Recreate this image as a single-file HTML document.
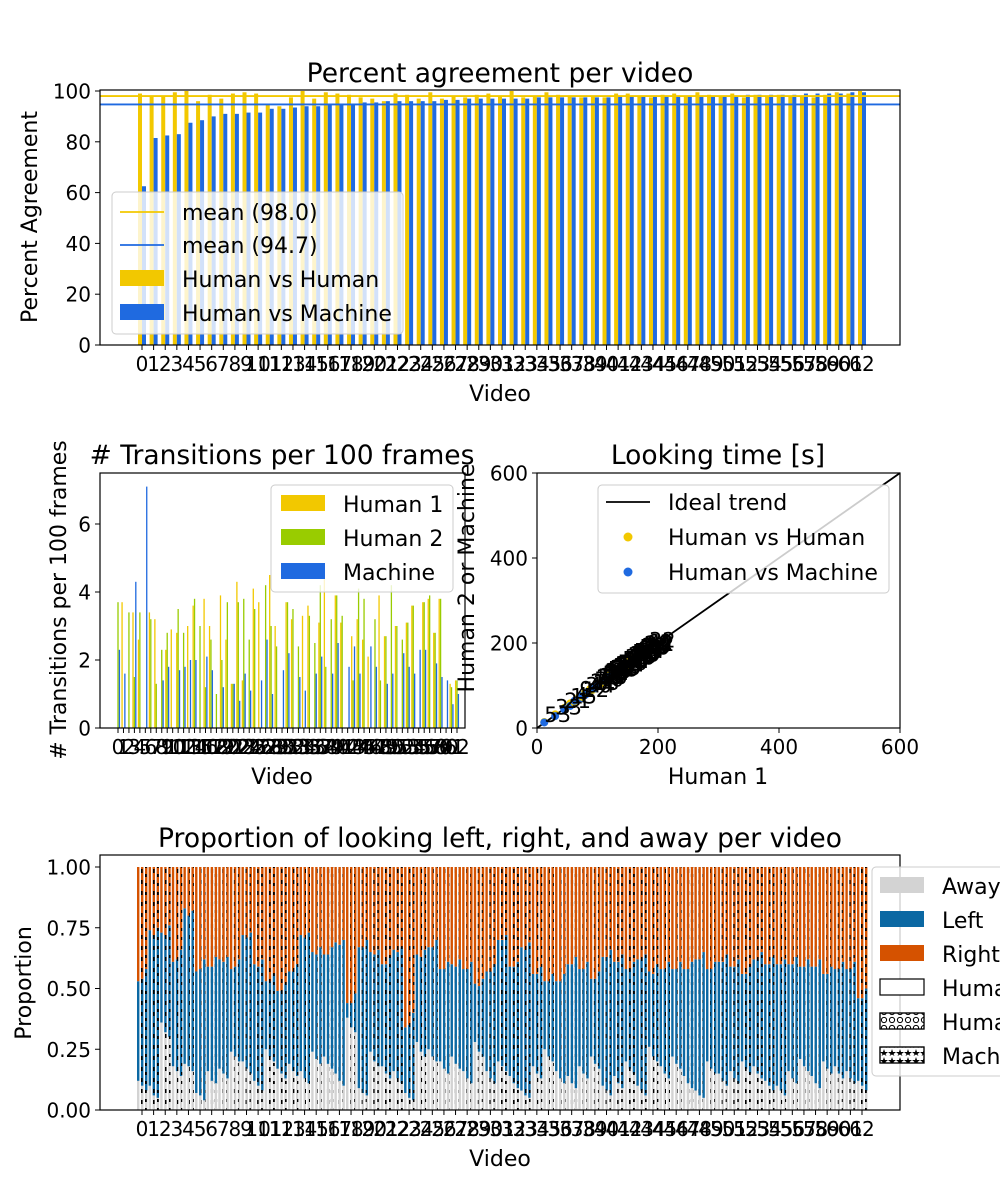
<!DOCTYPE html>
<html><head><meta charset="utf-8"><style>
html,body{margin:0;padding:0;background:#fff;}
svg{display:block;font-family:"DejaVu Sans","Liberation Sans",sans-serif;}
</style></head><body>
<svg id="fig" width="1000" height="1200" viewBox="0 0 1000 1200" xmlns="http://www.w3.org/2000/svg">
<defs>
<pattern id="hatchO" patternUnits="userSpaceOnUse" width="8" height="8"><circle cx="4" cy="4" r="2.6" fill="none" stroke="#000" stroke-width="1"/></pattern>
<pattern id="hatchStar" patternUnits="userSpaceOnUse" width="8" height="8"><path d="M4 1 L5 4 L8 4 L5.5 6 L6.5 8 L4 6.5 L1.5 8 L2.5 6 L0 4 L3 4Z" fill="#000"/></pattern>
<pattern id="barO" patternUnits="userSpaceOnUse" width="4" height="11"><rect x="1" y="0" width="1.6" height="4" fill="#000"/></pattern>
<pattern id="barStar" patternUnits="userSpaceOnUse" width="4" height="9"><rect x="1" y="1" width="1.8" height="3" fill="#000"/></pattern>
</defs>
<g id="g1"></g><g id="g2"></g><g id="g3"></g><g id="g4"></g>
</svg>
<script>
// ---------- data ----------
const videos = Array.from({length:63},(_,i)=>i);
const hvm = [62.5,81.5,82.5,83,87.5,88.5,90,91,91,91.5,91.5,93,93,93.5,94,94,94.5,95,95,95.5,95.5,96,96,96,96,96,96.5,96.5,97,97,97,97,97,97,97.5,97.5,97.5,97.5,97.5,97.5,97.5,98,98,98,98,98,98,98,98,98,98,98,98.5,98.5,98.5,98.5,98.5,99,99,99,99,99.5,99.5];
const hvh = [99,98,98,99.5,100,96,98.5,97,99,99.5,99,94.5,94,97.5,100,97,99.5,99,98.5,97.5,97,96,99,98.5,97,99.5,97,98,97.5,98.5,99,98,100,97.5,98,99.5,98.5,98,97.5,98,97.5,99,99,98,97.5,98.5,99,98,99.5,98.5,98,99,97.5,98.5,98,98.5,98,98,97.5,98.5,99.5,99,100];
const meanHvH = 98.0, meanHvM = 94.7;
const yTicksPct = [0,20,40,60,80,100];

const trH1 = [0,3.7,0,3.4,2.6,0,3.4,3.2,0,2.3,2.9,2.8,0,3.0,3.6,0,3.8,3.0,0,3.9,2.6,1.3,4.3,1.4,0,4.1,3.7,0,4.5,3.0,0,3.7,3.2,0,3.3,3.6,0,3.1,4.4,0,3.9,3.1,0,2.7,3.2,2.6,2.1,0,3.9,2.7,0,3.0,0,3.1,3.6,0,3.7,3.8,2.8,3.8,0,1.3,1.4];
const trH2 = [3.7,0,3.4,1.5,3.4,0,3.2,1.3,2.3,2.8,0,3.5,2.8,0,3.8,3.0,1.2,2.6,1.0,2.0,3.7,1.3,3.7,3.8,2.6,3.5,0,4.2,3.0,2.4,0,3.7,3.5,2.4,0,3.3,2.5,4.2,1.8,3.2,3.9,3.3,0,1.4,4.1,3.8,0,3.2,1.4,2.7,4.2,3.0,2.6,3.1,3.6,0,3.7,3.9,2.8,3.8,0,1.2,1.4];
const trM = [2.3,1.6,0,4.3,0,7.1,0,0,1.4,1.8,0,1.7,1.8,2.0,2.0,0,2.1,1.7,0,1.2,0,1.3,0.8,1.6,1.1,0,1.4,2.6,1.0,0,1.7,2.2,0,1.5,1.1,0,1.6,2.1,0,1.6,2.5,0,1.8,2.4,1.6,0,2.4,1.8,0,1.3,1.6,0,2.2,1.8,1.6,2.3,2.3,0,1.9,1.5,1.4,0.7,1.0];
const yTicksTr = [0,2,4,6];

const ltH1 = [12,30,45,55,62,70,75,80,85,88,92,95,98,100,103,106,108,110,112,115,117,119,121,123,125,127,129,131,133,135,137,139,141,143,145,147,149,151,153,155,157,159,161,163,165,167,169,171,173,175,177,179,181,183,185,150,140,130,120,110,100,160,170];
const ltH2 = [14,32,47,58,60,74,73,84,83,92,90,97,102,98,106,104,112,108,116,113,121,117,125,121,129,125,133,129,137,133,141,137,145,141,149,145,153,149,157,153,161,157,165,161,169,165,173,169,177,173,181,177,185,181,189,154,143,134,123,113,104,164,175];
const ltM = [13,28,44,52,64,68,77,78,87,86,94,93,100,99,105,108,110,112,114,117,119,121,123,126,127,129,131,134,135,137,139,141,143,145,147,149,151,153,155,157,159,161,163,165,167,169,171,173,175,177,179,181,183,185,187,152,142,132,121,111,102,162,172];
const ltLabels = [53,33,21,15,4,9,12,30,44,2,18,7,25,40,11,60,13,27,35,8,50,6,22,38,17,46,3,29,55,14,41,20,58,24,37,1,48,16,31,10,52,26,43,19,61,34,5,47,23,56,28,39,62,42,32,36,45,49,51,54,57,59,0];
const scTicks = [0,200,400,600];

const awayH1 = [0.12,0.10,0.36,0.18,0.19,0.07,0.16,0.17,0.24,0.20,0.12,0.25,0.17,0.19,0.16,0.24,0.22,0.15,0.38,0.09,0.24,0.18,0.16,0.07,0.28,0.25,0.20,0.22,0.16,0.28,0.16,0.20,0.14,0.08,0.18,0.25,0.16,0.14,0.18,0.22,0.10,0.14,0.20,0.10,0.26,0.18,0.22,0.14,0.08,0.20,0.15,0.16,0.20,0.18,0.12,0.10,0.16,0.21,0.14,0.20,0.18,0.16,0.12];
const leftH1 = [0.41,0.64,0.37,0.43,0.64,0.50,0.43,0.45,0.34,0.52,0.48,0.28,0.32,0.38,0.56,0.41,0.42,0.54,0.06,0.58,0.41,0.42,0.50,0.27,0.36,0.42,0.38,0.38,0.42,0.24,0.41,0.50,0.45,0.59,0.38,0.28,0.37,0.46,0.40,0.32,0.53,0.47,0.38,0.52,0.31,0.40,0.36,0.44,0.54,0.38,0.46,0.43,0.36,0.44,0.48,0.50,0.44,0.38,0.45,0.36,0.40,0.42,0.34];
const awayH2 = [0.10,0.06,0.32,0.16,0.18,0.06,0.12,0.15,0.22,0.17,0.10,0.22,0.15,0.16,0.13,0.21,0.19,0.12,0.34,0.07,0.20,0.15,0.13,0.05,0.24,0.22,0.17,0.19,0.13,0.24,0.13,0.18,0.11,0.06,0.15,0.22,0.13,0.11,0.15,0.19,0.08,0.11,0.17,0.08,0.22,0.15,0.19,0.11,0.06,0.17,0.12,0.13,0.17,0.15,0.10,0.08,0.13,0.18,0.11,0.17,0.15,0.13,0.10];
const leftH2 = [0.44,0.66,0.40,0.46,0.62,0.52,0.47,0.46,0.37,0.54,0.49,0.31,0.34,0.41,0.58,0.43,0.45,0.56,0.10,0.60,0.44,0.45,0.52,0.30,0.39,0.45,0.41,0.40,0.45,0.27,0.44,0.52,0.48,0.60,0.41,0.31,0.40,0.49,0.43,0.35,0.55,0.50,0.41,0.54,0.34,0.43,0.39,0.47,0.56,0.41,0.49,0.46,0.39,0.47,0.50,0.52,0.47,0.41,0.48,0.39,0.43,0.45,0.36];
const awayM = [0.08,0.05,0.30,0.14,0.16,0.04,0.11,0.13,0.20,0.15,0.08,0.20,0.13,0.14,0.11,0.19,0.17,0.10,0.32,0.06,0.18,0.13,0.11,0.04,0.22,0.20,0.15,0.17,0.11,0.22,0.11,0.16,0.09,0.05,0.13,0.20,0.11,0.09,0.13,0.17,0.06,0.09,0.15,0.06,0.20,0.13,0.17,0.09,0.05,0.15,0.10,0.11,0.15,0.13,0.08,0.06,0.11,0.16,0.09,0.15,0.13,0.11,0.08];
const leftM = [0.50,0.70,0.46,0.52,0.66,0.58,0.52,0.50,0.42,0.58,0.54,0.36,0.39,0.46,0.62,0.48,0.50,0.60,0.16,0.64,0.48,0.50,0.56,0.36,0.44,0.50,0.46,0.45,0.50,0.32,0.49,0.56,0.52,0.64,0.46,0.36,0.45,0.54,0.48,0.40,0.60,0.55,0.46,0.58,0.40,0.48,0.44,0.52,0.60,0.46,0.54,0.51,0.44,0.52,0.55,0.56,0.52,0.46,0.53,0.44,0.48,0.50,0.42];
const propTicks = [0,0.25,0.5,0.75,1.0];

// ---------- helpers ----------
const NS = "http://www.w3.org/2000/svg";
function el(tag, attrs, parent){ const e=document.createElementNS(NS,tag); for(const k in attrs) e.setAttribute(k,attrs[k]); parent.appendChild(e); return e; }
function txt(s, attrs, parent){ const e=el('text',attrs,parent); e.textContent=s; return e; }
const YEL="#f2c800", BLU="#1f6ae0", GRN="#99cc00", LBL="#0b68a3", ORG="#d55200", GRY="#d3d3d3";
const TK=20, LB=22, TT=26.5, LG=22;

function frame(g,x0,y0,x1,y1,name){
  const r=el('rect',{x:x0,y:y0,width:x1-x0,height:y1-y0,fill:"none",stroke:"#000","stroke-width":1.2},g);
  
  
}
function yAxis(g,ticks,ys,x0,fmt,name){
  ticks.forEach(t=>{
    const y=ys(t);
    const l=el('line',{x1:x0-5,x2:x0,y1:y,y2:y,stroke:"#000","stroke-width":1},g);
    
    
    const tt=txt(fmt(t),{x:x0-9,y:y+7.5,"text-anchor":"end","font-size":TK},g);
    
    
  });
}
function xCat(g,xs,y0,fs,name){
  videos.forEach(i=>{
    const x=xs(i);
    const l=el('line',{x1:x,x2:x,y1:y0,y2:y0+5,stroke:"#000","stroke-width":1},g);
    
    
    const tt=txt(String(i),{x:x,y:y0+26,"text-anchor":"middle","font-size":fs},g);
    
    
  });
}
function label(g,s,x,y,fs,rot,name){
  const a={x:x,y:y,"text-anchor":"middle","font-size":fs};
  if(rot) a.transform=`rotate(-90 ${x} ${y})`;
  const t=txt(s,a,g);
  
  
}
function legendBox(g,x,y,w,h,name){
  const r=el('rect',{x:x,y:y,width:w,height:h,rx:4,fill:"#fff","fill-opacity":0.8,stroke:"#ccc"},g);
  
  
}
function legendText(g,s,x,y,name){
  const t=txt(s,{x:x,y:y,"font-size":LG},g);
  
  
}

// ---------- chart 1 ----------
(function(){
  const g=document.getElementById('g1');
  const X0=100,X1=900,Y0=90,Y1=345;
  const xs=i=>142+i*(720/62);
  const ys=v=>Y1-v*2.54;
  videos.forEach(i=>{
    const a=el('rect',{x:xs(i)-4,y:ys(hvh[i]),width:4,height:Y1-ys(hvh[i]),fill:YEL},g);
    
    
    const b=el('rect',{x:xs(i),y:ys(hvm[i]),width:4,height:Y1-ys(hvm[i]),fill:BLU},g);
    
    
  });
  const m1=el('line',{x1:X0,x2:X1,y1:ys(meanHvH),y2:ys(meanHvH),stroke:YEL,"stroke-width":1.8},g);
  
  
  const m2=el('line',{x1:X0,x2:X1,y1:ys(meanHvM),y2:ys(meanHvM),stroke:BLU,"stroke-width":1.8},g);
  
  
  frame(g,X0,Y0,X1,Y1,'agreement-axes');
  yAxis(g,yTicksPct,ys,X0,t=>String(t),'agreement-y');
  xCat(g,xs,Y1,TK,'agreement-x');
  label(g,"Percent agreement per video",500,82,TT,false,'agreement-title');
  label(g,"Video",500,401,LB,false,'agreement-x-title');
  label(g,"Percent Agreement",37,217,LB,true,'agreement-y-title');
  legendBox(g,112,192,291,142,'agreement-legend');
  const l1=el('line',{x1:120,x2:164,y1:212,y2:212,stroke:YEL,"stroke-width":1.8},g);
  
  
  legendText(g,"mean (98.0)",182,220,'legend-mean-hvh');
  const l2=el('line',{x1:120,x2:164,y1:245,y2:245,stroke:BLU,"stroke-width":1.8},g);
  
  
  legendText(g,"mean (94.7)",182,253,'legend-mean-hvm');
  const p1=el('rect',{x:120,y:270,width:44,height:16,fill:YEL},g);
  
  
  legendText(g,"Human vs Human",182,287,'legend-hvh');
  const p2=el('rect',{x:120,y:304,width:44,height:16,fill:BLU},g);
  
  
  legendText(g,"Human vs Machine",182,321,'legend-hvm');
})();

// ---------- chart 2 ----------
(function(){
  const g=document.getElementById('g2');
  const X0=100,X1=465,Y0=473,Y1=728;
  const xs=i=>118+i*(339/62);
  const ys=v=>Y1-v*34;
  const sets=[[trH1,YEL,-1.4,'bar-transitions-human1'],[trH2,GRN,0,'bar-transitions-human2'],[trM,BLU,1.4,'bar-transitions-machine']];
  sets.forEach(s=>{
    videos.forEach(i=>{
      const v=s[0][i]; if(!v) return;
      const r=el('rect',{x:xs(i)+s[2]-0.65,y:ys(v),width:1.3,height:Y1-ys(v),fill:s[1]},g);
      
      
    });
  });
  frame(g,X0,Y0,X1,Y1,'transitions-axes');
  yAxis(g,yTicksTr,ys,X0,t=>String(t),'transitions-y');
  xCat(g,xs,Y1,TK,'transitions-x');
  label(g,"# Transitions per 100 frames",282,464,TT,false,'transitions-title');
  label(g,"Video",282,784,LB,false,'transitions-x-title');
  label(g,"# Transitions per 100 frames",66,600,LB,true,'transitions-y-title');
  legendBox(g,271,485,182,107,'transitions-legend');
  [[YEL,"Human 1",495],[GRN,"Human 2",529],[BLU,"Machine",563]].forEach(e=>{
    const p=el('rect',{x:281,y:e[2],width:44,height:16,fill:e[0]},g);
    
    
    legendText(g,e[1],343,e[2]+17,'legend-entry');
  });
})();

// ---------- chart 3 ----------
(function(){
  const g=document.getElementById('g3');
  const X0=537,X1=900,Y0=473,Y1=728;
  const sx=v=>X0+v*(363/600);
  const sy=v=>Y1-v*(255/600);
  const ln=el('line',{x1:sx(0),y1:sy(0),x2:sx(600),y2:sy(600),stroke:"#000","stroke-width":1.8},g);
  
  
  ltH1.forEach((v,i)=>{
    const c=el('circle',{cx:sx(v),cy:sy(ltH2[i]),r:4,fill:YEL},g);
    
    
    const d=el('circle',{cx:sx(v),cy:sy(ltM[i]),r:4,fill:BLU},g);
    
    
  });
  ltH1.forEach((v,i)=>{
    const t=txt(String(ltLabels[i]),{x:sx(v),y:sy(ltH2[i]),"font-size":21},g);
    
    
  });
  frame(g,X0,Y0,X1,Y1,'looking-time-axes');
  yAxis(g,scTicks,sy,X0,t=>String(t),'looking-time-y');
  scTicks.forEach(t=>{
    const l=el('line',{x1:sx(t),x2:sx(t),y1:Y1,y2:Y1+5,stroke:"#000"},g);
    
    
    const tt=txt(String(t),{x:sx(t),y:Y1+26,"text-anchor":"middle","font-size":TK},g);
    
    
  });
  label(g,"Looking time [s]",718,464,TT,false,'looking-time-title');
  label(g,"Human 1",718,784,LB,false,'looking-time-x-title');
  label(g,"Human 2 or Machine",474,578,LB,true,'looking-time-y-title');
  legendBox(g,598,485,291,108,'looking-time-legend');
  const l=el('line',{x1:606,x2:650,y1:502,y2:502,stroke:"#000","stroke-width":1.8},g);
  
  
  legendText(g,"Ideal trend",668,510,'legend-ideal');
  const c1=el('circle',{cx:628,cy:537,r:4.5,fill:YEL},g);
  
  
  legendText(g,"Human vs Human",668,545,'legend-hvh');
  const c2=el('circle',{cx:628,cy:572,r:4.5,fill:BLU},g);
  
  
  legendText(g,"Human vs Machine",668,580,'legend-hvm');
})();

// ---------- chart 4 ----------
(function(){
  const g=document.getElementById('g4');
  const X0=100,X1=900,Y0=855,Y1=1110;
  const xs=i=>142+i*(720/62);
  const ys=v=>Y1-v*243;
  const raters=[[awayH1,leftH1,-5,null,'human1'],[awayH2,leftH2,-1,'url(#barO)','human2'],[awayM,leftM,3,'url(#barStar)','machine']];
  raters.forEach(r=>{
    videos.forEach(i=>{
      const a=r[0][i], l=a+r[1][i], x=xs(i)+r[2], w=2.4;
      const s1=el('rect',{x:x,y:ys(a),width:w,height:Y1-ys(a),fill:GRY},g);
      
      
      const s2=el('rect',{x:x,y:ys(l),width:w,height:ys(a)-ys(l),fill:LBL},g);
      
      
      const s3=el('rect',{x:x,y:ys(1),width:w,height:ys(l)-ys(1),fill:ORG},g);
      
      
      if(r[3]){
        const h=el('rect',{x:x,y:ys(1),width:w,height:Y1-ys(1),fill:r[3]},g);
        
        
      }
    });
  });
  frame(g,X0,Y0,X1,Y1,'proportion-axes');
  yAxis(g,propTicks,ys,X0,t=>t.toFixed(2),'proportion-y');
  xCat(g,xs,Y1,TK,'proportion-x');
  label(g,"Proportion of looking left, right, and away per video",500,847,TT,false,'proportion-title');
  label(g,"Video",500,1166,LB,false,'proportion-x-title');
  label(g,"Proportion",31,983,LB,true,'proportion-y-title');
  legendBox(g,872,867,140,209,'proportion-legend');
  const ents=[[GRY,null,"Away"],[LBL,null,"Left"],[ORG,null,"Right"],["#fff","none","Human 1"],["#fff","url(#hatchO)","Human 2"],["#fff","url(#hatchStar)","Machine"]];
  ents.forEach((e,k)=>{
    const y=877+k*34;
    const p=el('rect',{x:880,y:y,width:44,height:16,fill:e[0],stroke:e[1]?"#000":"none","stroke-width":1.2},g);
    
    
    if(e[1] && e[1]!=="none"){
      const h=el('rect',{x:880,y:y,width:44,height:16,fill:e[1],stroke:"#000","stroke-width":1.2},g);
      
      
    }
    legendText(g,e[2],942,y+17,'legend-entry');
  });
})();
</script>
</body></html>
